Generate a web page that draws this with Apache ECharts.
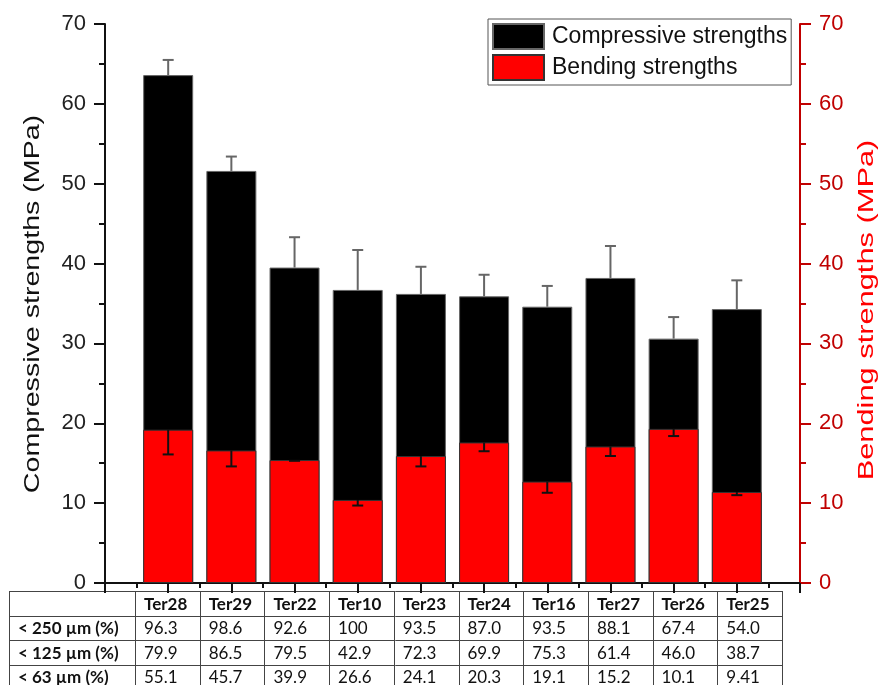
<!DOCTYPE html>
<html>
<head>
<meta charset="utf-8">
<script src="https://cdn.jsdelivr.net/npm/echarts@6/dist/echarts.min.js"></script>
<style>
  html, body { margin: 0; padding: 0; background: #fff; }
  #chart { width: 881px; height: 685px; }
</style>
</head>
<body>
<div id="chart"></div>
<script>
// Mortar samples (x positions 1..10 on the bottom axis)
const categories = ['Ter28', 'Ter29', 'Ter22', 'Ter10', 'Ter23', 'Ter24', 'Ter16', 'Ter27', 'Ter26', 'Ter25'];

// Compressive strengths (MPa) and standard deviations
const compressive    = [63.6, 51.6, 39.5, 36.7, 36.2, 35.9, 34.6, 38.2, 30.6, 34.3];
const compressiveErr = [1.9, 1.8, 3.8, 5.0, 3.4, 2.7, 2.6, 4.0, 2.7, 3.6];

// Bending strengths (MPa) and standard deviations
const bending    = [19.2, 16.6, 15.4, 10.4, 15.9, 17.6, 12.7, 17.1, 19.3, 11.4];
const bendingErr = [3.1, 2.0, 0.1, 0.7, 1.3, 1.1, 1.4, 1.2, 0.9, 0.4];

// Axis ticks
const yTicks = [0, 10, 20, 30, 40, 50, 60, 70];

// Particle size table underneath the chart
const rowLabels = ['< 250 µm (%)', '< 125 µm (%)', '< 63 µm (%)'];
const below250 = ['96.3', '98.6', '92.6', '100', '93.5', '87.0', '93.5', '88.1', '67.4', '54.0'];
const below125 = ['79.9', '86.5', '79.5', '42.9', '72.3', '69.9', '75.3', '61.4', '46.0', '38.7'];
const below63  = ['55.1', '45.7', '39.9', '26.6', '24.1', '20.3', '19.1', '15.2', '10.1', '9.41'];
const tableRows = [below250, below125, below63];

const FONT = '"Liberation Sans", Arial, sans-serif';
const TABLE_FONT = 'Lato, "Open Sans", sans-serif';
const AXIS_RED = '#c00000';

const chart = echarts.init(document.getElementById('chart'), null, { renderer: 'canvas' });

const compData = compressive.map((v, i) => [i + 1, v]);
const bendData = bending.map((v, i) => [i + 1, v]);

// Error bars: compressive ones point up from the bar top, bending ones point down
function errorRenderer(values, errs, color, upward) {
  return function (params, api) {
    const i = params.dataIndex;
    const x = i + 1;
    const base = api.coord([x, values[i]]);
    const end = api.coord([x, upward ? values[i] + errs[i] : values[i] - errs[i]]);
    const half = 5.5;
    const style = { stroke: color, lineWidth: 2 };
    return {
      type: 'group',
      children: [
        { type: 'line', shape: { x1: base[0], y1: base[1], x2: end[0], y2: end[1] }, style },
        { type: 'line', shape: { x1: end[0] - half, y1: end[1], x2: end[0] + half, y2: end[1] }, style }
      ]
    };
  };
}

// Table drawn as graphic elements
const tbl = { left: 9, firstCol: 135, colW: 64.7, top: 591, rowH: 24.5, rows: 4 };
const tableGraphics = [];
const tblRight = tbl.firstCol + tbl.colW * categories.length;
const tblBottom = tbl.top + tbl.rowH * tbl.rows;
const lineStyle = { stroke: '#444', lineWidth: 1 };
for (let r = 0; r <= tbl.rows; r++) {
  const y = Math.round(tbl.top + r * tbl.rowH) + 0.5;
  tableGraphics.push({ type: 'line', shape: { x1: tbl.left, y1: y, x2: tblRight, y2: y }, style: lineStyle });
}
const colEdges = [tbl.left, tbl.firstCol];
for (let c = 1; c <= categories.length; c++) colEdges.push(tbl.firstCol + c * tbl.colW);
colEdges.forEach(x => {
  const xx = Math.round(x) + 0.5;
  tableGraphics.push({ type: 'line', shape: { x1: xx, y1: tbl.top, x2: xx, y2: tblBottom }, style: lineStyle });
});
categories.forEach((c, i) => {
  tableGraphics.push({
    type: 'text', x: tbl.firstCol + i * tbl.colW + 9, y: tbl.top + tbl.rowH / 2 + 1,
    style: { text: c, font: 'bold 17px ' + TABLE_FONT, fill: '#111', verticalAlign: 'middle' }
  });
});
rowLabels.forEach((lab, r) => {
  const cy = tbl.top + (r + 1) * tbl.rowH + tbl.rowH / 2 + 1;
  tableGraphics.push({
    type: 'text', x: tbl.left + 9, y: cy,
    style: { text: lab, font: 'bold 17px ' + TABLE_FONT, fill: '#111', verticalAlign: 'middle' }
  });
  tableRows[r].forEach((v, i) => {
    tableGraphics.push({
      type: 'text', x: tbl.firstCol + i * tbl.colW + 9, y: cy,
      style: { text: v, font: '17px ' + TABLE_FONT, fill: '#111', verticalAlign: 'middle' }
    });
  });
});

// Axis titles, set in a condensed, tall style
const titles = [
  { type: 'text', x: 33, y: 304, rotation: Math.PI / 2, scaleX: 1.3, scaleY: 1,
    style: { text: 'Compressive strengths (MPa)', font: '22px ' + FONT, fill: '#111', align: 'center', verticalAlign: 'middle' } },
  { type: 'text', x: 867, y: 310, rotation: Math.PI / 2, scaleX: 1.4, scaleY: 1,
    style: { text: 'Bending strengths (MPa)', font: '22px ' + FONT, fill: '#ff0000', align: 'center', verticalAlign: 'middle' } }
];

const option = {
  animation: false,
  backgroundColor: '#fff',
  grid: { left: 105, right: 81, top: 24, bottom: 102, containLabel: false },
  legend: {
    orient: 'vertical',
    left: 488,
    top: 19,
    padding: [4, 4, 4, 4],
    itemGap: 4,
    itemWidth: 51,
    itemHeight: 25,
    borderColor: '#555',
    borderWidth: 1,
    backgroundColor: '#fff',
    icon: 'rect',
    textStyle: { fontFamily: FONT, fontSize: 23, lineHeight: 25, color: '#111', padding: [0, 0, 0, 3] },
    data: ['Compressive strengths', 'Bending strengths']
  },
  xAxis: {
    type: 'value',
    min: 0,
    max: 11,
    interval: 1,
    axisLine: { show: true, onZero: false, lineStyle: { color: '#111', width: 2 } },
    axisTick: { show: true, inside: false, length: 10, lineStyle: { color: '#111', width: 2 } },
    minorTick: { show: true, splitNumber: 2, length: 5, lineStyle: { color: '#111', width: 2 } },
    axisLabel: { show: false },
    splitLine: { show: false }
  },
  yAxis: [
    {
      type: 'value',
      min: yTicks[0],
      max: yTicks[yTicks.length - 1],
      interval: 10,
      position: 'left',
      axisLine: { show: true, lineStyle: { color: '#111', width: 2 } },
      axisTick: { show: true, inside: false, length: 11, lineStyle: { color: '#111', width: 2 } },
      minorTick: { show: true, splitNumber: 2, length: 6, lineStyle: { color: '#111', width: 2 } },
      axisLabel: { fontFamily: FONT, fontSize: 22, color: '#222', margin: 19 },
      splitLine: { show: false }
    },
    {
      type: 'value',
      min: yTicks[0],
      max: yTicks[yTicks.length - 1],
      interval: 10,
      position: 'right',
      axisLine: { show: true, lineStyle: { color: AXIS_RED, width: 2 } },
      axisTick: { show: true, inside: false, length: 11, lineStyle: { color: AXIS_RED, width: 2 } },
      minorTick: { show: true, splitNumber: 2, length: 6, lineStyle: { color: AXIS_RED, width: 2 } },
      axisLabel: { fontFamily: FONT, fontSize: 22, color: AXIS_RED, margin: 19 },
      splitLine: { show: false }
    }
  ],
  series: [
    {
      name: 'Compressive strengths',
      type: 'bar',
      yAxisIndex: 0,
      z: 2,
      barWidth: 50,
      barGap: '-100%',
      itemStyle: { color: '#000', borderColor: '#666', borderWidth: 1 },
      data: compData
    },
    {
      name: 'Compressive strengths error',
      type: 'custom',
      yAxisIndex: 0,
      z: 3,
      renderItem: errorRenderer(compressive, compressiveErr, '#666', true),
      data: compData,
      silent: true
    },
    {
      name: 'Bending strengths',
      type: 'bar',
      yAxisIndex: 1,
      z: 4,
      barWidth: 50,
      barGap: '-100%',
      itemStyle: { color: '#ff0000', borderColor: '#333', borderWidth: 1 },
      data: bendData
    },
    {
      name: 'Bending strengths error',
      type: 'custom',
      yAxisIndex: 1,
      z: 5,
      renderItem: errorRenderer(bending, bendingErr, '#111', false),
      data: bendData,
      silent: true
    }
  ],
  graphic: [
    { type: 'group', left: 0, top: 0, silent: true, children: tableGraphics, bounding: 'raw' },
    { type: 'group', left: 0, top: 0, silent: true, children: titles, bounding: 'raw' }
  ]
};

chart.setOption(option);
</script>
</body>
</html>
